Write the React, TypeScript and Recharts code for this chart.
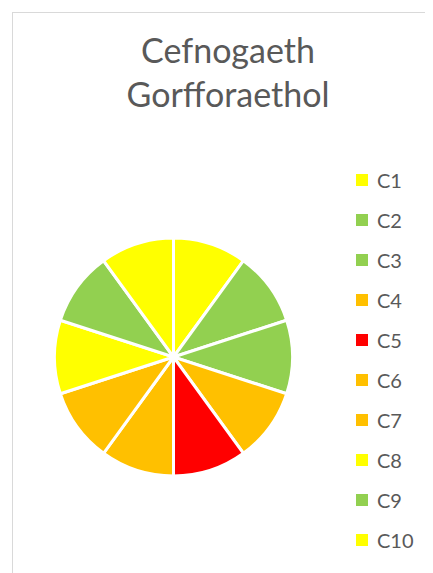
import { PieChart, Pie, Cell, Legend } from 'recharts'

// categories and their share (all equal in the source chart)
const categories = ['C1', 'C2', 'C3', 'C4', 'C5', 'C6', 'C7', 'C8', 'C9', 'C10']
const shares = [1, 1, 1, 1, 1, 1, 1, 1, 1, 1]
const sliceColors = [
  '#FFFF00',
  '#92D050',
  '#92D050',
  '#FFC000',
  '#FF0000',
  '#FFC000',
  '#FFC000',
  '#FFFF00',
  '#92D050',
  '#FFFF00',
]
const titleLines = ['Cefnogaeth', 'Gorfforaethol']

const data = categories.map((name, i) => ({ name, value: shares[i], fill: sliceColors[i] }))

const textColor = '#595959'
const fontFamily = 'Lato, "Open Sans", sans-serif'

function LegendList({ payload }: any) {
  // keep the series order, not alphabetical
  const items = [...(payload || [])].sort(
    (a: any, b: any) => categories.indexOf(a.value) - categories.indexOf(b.value)
  )
  return (
    <div>
      {items.map((entry: any) => (
        <div
          key={entry.value}
          style={{ height: 40, display: 'flex', alignItems: 'center' }}
        >
          <span
            style={{
              width: 12,
              height: 12,
              backgroundColor: entry.color,
              display: 'inline-block',
              marginRight: 9,
            }}
          />
          <span style={{ fontSize: 20, color: textColor, fontFamily }}>{entry.value}</span>
        </div>
      ))}
    </div>
  )
}

export default function App() {
  return (
    <div style={{ position: 'relative', width: 425, height: 565, overflow: 'hidden' }}>
      {/* chart area frame, only left/top edges visible in the crop */}
      <div
        style={{
          position: 'absolute',
          left: 4,
          top: 4,
          width: 600,
          height: 700,
          borderLeft: '1px solid #D9D9D9',
          borderTop: '1px solid #D9D9D9',
        }}
      />
      <div
        style={{
          position: 'absolute',
          left: 0,
          top: 20,
          width: 440,
          textAlign: 'center',
          fontFamily,
          fontSize: 34,
          lineHeight: '44px',
          color: textColor,
        }}
      >
        {titleLines.map((t) => (
          <div key={t}>{t}</div>
        ))}
      </div>
      <PieChart
        width={425}
        height={565}
        margin={{ top: 0, right: 0, bottom: 0, left: 0 }}
        style={{ position: 'absolute', left: 0, top: 0 }}
      >
        <Pie
          data={data}
          dataKey="value"
          nameKey="name"
          cx={165.5}
          cy={349}
          outerRadius={119}
          startAngle={90}
          endAngle={-270}
          stroke="#FFFFFF"
          strokeWidth={3}
          isAnimationActive={false}
        >
          {data.map((d) => (
            <Cell key={d.name} fill={d.fill} />
          ))}
        </Pie>
        <Legend
          layout="vertical"
          itemSorter={null as any}
          content={<LegendList />}
          wrapperStyle={{ left: 348, top: 152, width: 80 }}
        />
      </PieChart>
    </div>
  )
}
